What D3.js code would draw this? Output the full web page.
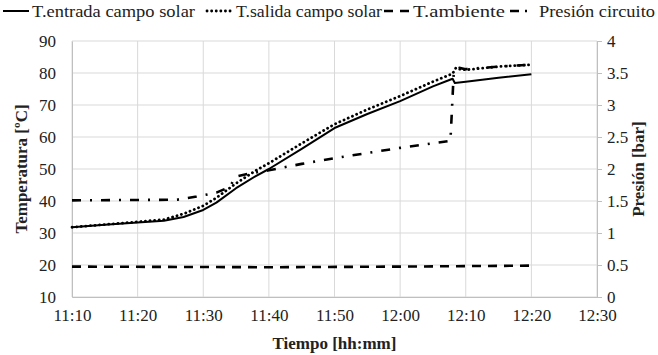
<!DOCTYPE html>
<html>
<head>
<meta charset="utf-8">
<script src="https://cdn.jsdelivr.net/npm/d3@7"></script>
</head>
<body style="margin:0">
<svg id="chart" width="658" height="355"></svg>
<script>
// series data (time of day, value)
const entradaTimes = ["11:10:00","11:15:00","11:20:00","11:24:00","11:27:00","11:30:00","11:32:00","11:35:00","11:38:00","11:40:00","11:45:00","11:50:00","11:55:00","12:00:00","12:05:00","12:07:30","12:08:00","12:08:20","12:10:00","12:15:00","12:20:00"];
const entradaVals  = [31.8, 32.6, 33.3, 33.8, 35.0, 37.2, 39.5, 44.0, 47.8, 50.0, 56.3, 62.8, 67.2, 71.2, 75.8, 77.8, 78.2, 76.9, 77.3, 78.5, 79.6];

const salidaTimes = ["11:10:00","11:20:00","11:24:00","11:27:00","11:30:00","11:32:00","11:35:00","11:38:00","11:40:00","11:45:00","11:50:00","11:55:00","12:00:00","12:05:00","12:08:00","12:08:30","12:09:00","12:10:00","12:15:00","12:20:00"];
const salidaVals  = [31.8, 33.5, 34.2, 36.0, 38.5, 41.0, 45.5, 49.5, 51.8, 58.0, 64.0, 68.6, 72.8, 77.3, 79.8, 81.6, 81.2, 81.0, 82.0, 82.6];

const ambienteTimes = ["11:10:00","11:40:00","12:00:00","12:20:00"];
const ambienteVals  = [19.5, 19.3, 19.5, 19.8];

const presionTimes = ["11:10:00","11:26:00","11:29:00","11:32:00","11:34:00","11:35:00","11:37:00","11:40:00","11:45:00","11:50:00","11:55:00","12:00:00","12:07:40","12:08:10","12:09:00","12:10:00","12:15:00","12:20:00"];
const presionVals  = [1.51, 1.52, 1.57, 1.63, 1.72, 1.88, 1.93, 1.98, 2.08, 2.17, 2.25, 2.33, 2.44, 3.50, 3.58, 3.56, 3.60, 3.63];

const tempTicks = [10, 20, 30, 40, 50, 60, 70, 80, 90];
const presTicks = [0, 0.5, 1, 1.5, 2, 2.5, 3, 3.5, 4];
const timeTicks = ["11:10","11:20","11:30","11:40","11:50","12:00","12:10","12:20","12:30"];

const legendItems = ["T.entrada campo solar", "T.salida campo solar", "T.ambiente", "Presión circuito"];

const FONT = '"Liberation Serif"';

const parse = d3.timeParse("%H:%M:%S");
const parseHM = d3.timeParse("%H:%M");
const fmt = d3.timeFormat("%H:%M");

const W = 658, H = 355;
const m = { left: 72, right: 61, top: 41, bottom: 58 };

const svg = d3.select("#chart");

const x = d3.scaleTime()
  .domain([parseHM("11:10"), parseHM("12:30")])
  .range([m.left, W - m.right]);
const yT = d3.scaleLinear().domain([10, 90]).range([H - m.bottom, m.top]);
const yP = d3.scaleLinear().domain([0, 4]).range([H - m.bottom, m.top]);

// grid
svg.append("g")
  .selectAll("line")
  .data(tempTicks)
  .join("line")
  .attr("x1", m.left).attr("x2", W - m.right)
  .attr("y1", d => yT(d)).attr("y2", d => yT(d))
  .attr("stroke", "#d9d9d9").attr("stroke-width", 1);

svg.append("g")
  .selectAll("line")
  .data(timeTicks.map(parseHM))
  .join("line")
  .attr("x1", d => x(d)).attr("x2", d => x(d))
  .attr("y1", m.top).attr("y2", H - m.bottom)
  .attr("stroke", "#d9d9d9").attr("stroke-width", 1);

// axes
const xAxis = svg.append("g")
  .attr("transform", `translate(0,${H - m.bottom})`)
  .call(d3.axisBottom(x).tickValues(timeTicks.map(parseHM)).tickFormat(fmt).tickSize(0).tickPadding(12));
const yAxisL = svg.append("g")
  .attr("transform", `translate(${m.left},0)`)
  .call(d3.axisLeft(yT).tickValues(tempTicks).tickSize(0).tickPadding(16));
const yAxisR = svg.append("g")
  .attr("transform", `translate(${W - m.right},0)`)
  .call(d3.axisRight(yP).tickValues(presTicks).tickFormat(d3.format("")).tickSize(5).tickPadding(5));

[xAxis, yAxisL, yAxisR].forEach(a => {
  a.attr("font-family", null).attr("font-size", null);
  a.select(".domain").attr("stroke", "#bfbfbf");
  a.selectAll(".tick line").attr("stroke", "#bfbfbf");
  a.selectAll("text")
    .style("font-family", FONT)
    .attr("font-size", 17)
    .attr("fill", "#222");
});

// axis titles
svg.append("text")
  .attr("transform", `translate(21,${(m.top + H - m.bottom) / 2}) rotate(-90)`)
  .attr("text-anchor", "middle").attr("dy", "0.35em")
  .style("font-family", FONT).attr("font-size", 17).attr("font-weight", "bold")
  .attr("fill", "#222")
  .text("Temperatura [ºC]");
svg.append("text")
  .attr("transform", `translate(638,${(m.top + H - m.bottom) / 2}) rotate(-90)`)
  .attr("text-anchor", "middle").attr("dy", "0.35em")
  .style("font-family", FONT).attr("font-size", 17).attr("font-weight", "bold")
  .attr("fill", "#222")
  .text("Presión [bar]");
svg.append("text")
  .attr("x", (m.left + W - m.right) / 2).attr("y", 349)
  .attr("text-anchor", "middle")
  .style("font-family", FONT).attr("font-size", 17).attr("font-weight", "bold")
  .attr("fill", "#222")
  .text("Tiempo [hh:mm]");

// series
const series = [
  { times: entradaTimes, vals: entradaVals, y: yT, dash: null, width: 2, cap: "butt" },
  { times: salidaTimes, vals: salidaVals, y: yT, dash: "0.1 4.5", width: 2.8, cap: "round" },
  { times: ambienteTimes, vals: ambienteVals, y: yT, dash: "9 7", width: 2.6, cap: "butt" },
  { times: presionTimes, vals: presionVals, y: yP, dash: "9 9 2 9", width: 2.6, cap: "butt" }
];

series.forEach(s => {
  const pts = s.times.map((t, i) => [parse(t), s.vals[i]]);
  const line = d3.line().x(d => x(d[0])).y(d => s.y(d[1]));
  svg.append("path")
    .datum(pts)
    .attr("d", line)
    .attr("fill", "none")
    .attr("stroke", "#000")
    .attr("stroke-width", s.width)
    .attr("stroke-linecap", s.cap)
    .attr("stroke-linejoin", "round")
    .attr("stroke-dasharray", s.dash);
});

// legend
const legendX = [3, 207, 384, 510];
const legendW = [163, 146, 92, 116];
const lg = svg.append("g");
legendItems.forEach((name, i) => {
  const s = series[i];
  lg.append("line")
    .attr("x1", legendX[i]).attr("x2", legendX[i] + 26)
    .attr("y1", 11).attr("y2", 11)
    .attr("stroke", "#000")
    .attr("stroke-width", s.width)
    .attr("stroke-linecap", s.cap)
    .attr("stroke-dasharray", i === 3 ? "9 6 2 9" : s.dash);
  lg.append("text")
    .attr("x", legendX[i] + 29).attr("y", 17)
    .style("font-family", FONT).attr("font-size", 17)
    .attr("fill", "#222")
    .attr("textLength", legendW[i]).attr("lengthAdjust", "spacingAndGlyphs")
    .text(name);
});
</script>
</body>
</html>
